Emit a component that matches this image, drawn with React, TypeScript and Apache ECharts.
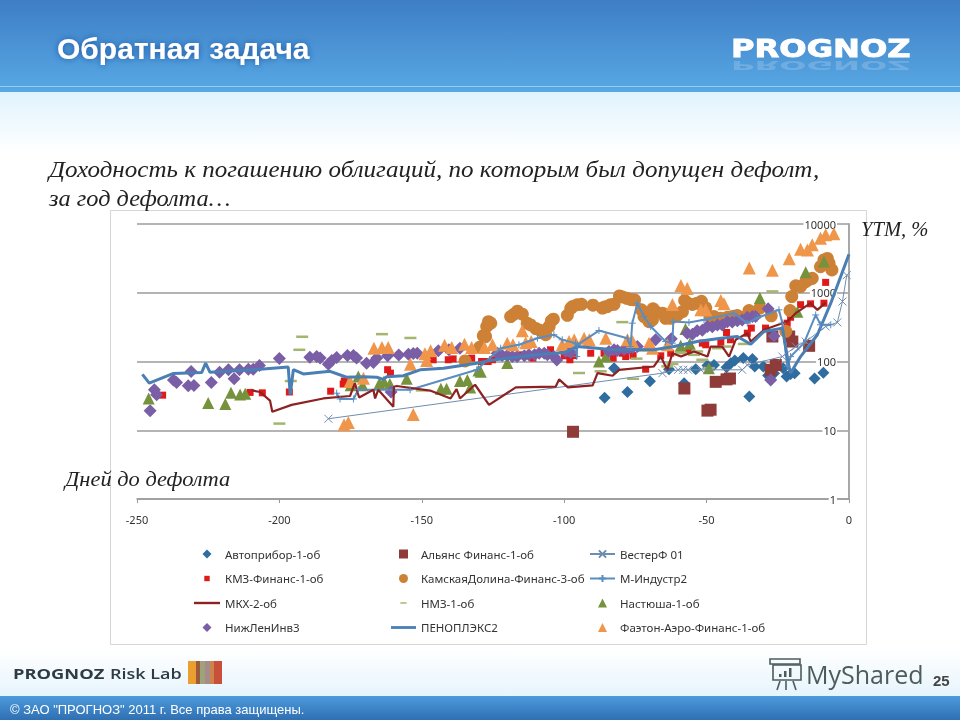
import React, { useEffect, useRef } from "react";
import * as echarts from "echarts";

const xTicks = { min: -250, max: 0, step: 50 };

const avtopribor = [[-85.8,29.6],[-82.5,80],[-77.8,36],[-69.9,51.8],[-63.2,77.3],[-57.9,48.4],[-53.8,77],[-49.7,87.5],[-47.4,89],[-43,82.7],[-41.5,94.6],[-40.1,103],[-37.1,112],[-33.9,109],[-35,31],[-33.1,84.6],[-30.1,84.6],[-28.4,62.6],[-26.3,67.7],[-23.1,80],[-21.9,60.5],[-20.5,66],[-19.1,67.7],[-12.1,56.6],[-9,68.5]];
const alyans = [[-96.9,9.5],[-57.8,40.5],[-49.7,19.3],[-48.6,19.9],[-46.8,50.6],[-43,55],[-41.8,56.6],[-26.9,231],[-27.5,75.7],[-25.7,89],[-21,231],[-19.9,195],[-14,169]];
const vester = [[-182.8,14.7],[-65.5,67.7],[-60,75.7],[-58.2,75.7],[-56.5,75.7],[-52,75.7],[-37.5,75.7],[-35.7,89],[-23.4,118],[-18.7,165],[-15.2,195],[-8.2,323],[-4.1,370],[-2.3,745],[-0.8,1800]];
const kmz = [[-241,32.4],[-210.3,35.5],[-206,35],[-196.5,36],[-182,37],[-177.6,47],[-177.2,52],[-162,76],[-161,67.7],[-146,106],[-140.7,106],[-139,109],[-132.5,112],[-129,100],[-126.7,100],[-128,100],[-125.2,106],[-114.7,125],[-111,112],[-104.8,148],[-100,121],[-98,106],[-96.6,122],[-90.7,132],[-86,132],[-82.8,112],[-79.6,132],[-78.4,118],[-75.8,122],[-71.4,77.3],[-66.1,121],[-62.6,132],[-56.2,148],[-51.5,185],[-50.3,175],[-45,190],[-43,264],[-41.6,207],[-35.7,258],[-34.3,306],[-29.3,306],[-21.7,361],[-20.5,440],[-17,670],[-13.5,690],[-8.2,1415],[-8.8,705]];
const kamskaya = [[-134.8,102],[-129.6,162],[-128.4,237],[-127.2,323],[-126.6,379],[-127.6,231],[-125.8,361],[-118.8,451],[-117.6,488],[-116.4,540],[-114.7,488],[-113,361],[-111.8,340],[-110,302],[-108.5,285],[-107,258],[-106.5,245],[-105.3,323],[-104.5,390],[-103.8,412],[-98.9,470],[-97.7,592],[-97.1,630],[-95.4,670],[-93.9,680],[-89.9,660],[-86.6,600],[-85.8,620],[-84.9,630],[-83.7,670],[-82.5,680],[-80.6,900],[-79.6,870],[-78,830],[-76.7,800],[-75.3,790],[-72.9,564],[-72,451],[-71,425],[-70.2,380],[-69,404],[-68.8,583],[-67.9,530],[-65.5,504],[-64.4,425],[-63.8,450],[-62.6,425],[-61.7,451],[-60.3,470],[-58.5,530],[-57.7,770],[-56.7,705],[-55,675],[-53.3,705],[-51.8,750],[-50.3,600],[-48.6,440],[-47.4,450],[-45,425],[-42.7,440],[-41,450],[-39.2,465],[-36.9,440],[-35.1,550],[-31.3,600],[-27.3,462],[-22.2,275],[-20.7,550],[-20.1,880],[-18.7,1260],[-17,1230],[-15.2,1450],[-14,1570],[-12.9,1620],[-10,2390],[-8.8,3000],[-7.6,3150],[-7,2690],[-6,2150]];
const mIndustr = [[-179.9,34.6],[-178.7,28.5],[-174,28.5],[-172.3,38.8],[-154.1,38.8],[-130.7,75.7],[-122.3,156],[-115.9,175],[-109.4,218],[-103.6,245],[-100.7,207],[-96,185],[-95.6,118],[-95.4,175],[-87.8,282],[-77.8,218],[-76.7,165],[-76.1,361],[-74.3,705],[-72,451],[-69.6,323],[-64.4,195],[-62,185],[-61.7,381],[-56.2,370],[-50.9,404],[-40.4,504],[-35.7,361],[-32.2,430],[-24.6,564],[-23.4,361],[-21.7,85],[-20.5,118],[-15.8,185],[-11.7,476],[-10,342],[-6.4,342]];
const mkx = [[-209.7,38],[-206.8,36],[-203.3,27],[-202.5,18.6],[-195.7,23.4],[-184.6,29],[-175.2,31.5],[-173.5,48.4],[-172,30],[-167,38.8],[-166.4,29],[-165.3,38.8],[-160,22],[-159.8,43],[-158.8,44],[-147.1,37.8],[-139.9,29],[-137.8,39.6],[-136.6,29],[-131.3,45.9],[-126.4,23.4],[-117,42],[-103,43],[-101.8,55],[-98.7,42],[-90,45],[-88.3,67.7],[-83,62],[-80.7,75.7],[-68.5,84.6],[-66.1,118],[-63.8,75.7],[-62,132],[-59,118],[-54.4,140],[-49.7,118],[-48.6,165],[-44.5,165],[-42.1,118],[-39.8,207],[-35.7,258],[-34.5,195],[-29.8,289],[-21.7,381],[-18.7,504],[-13.5,705],[-11.1,564],[-8.2,720]];
const nmz = [[-192,229],[-193,148],[-200,12.5],[-196,52],[-164,250],[-154,220],[-150,38],[-79.6,374],[-94.8,68],[-87.2,72],[-75.8,56],[-74.6,110],[-72,145],[-62,92],[-63.8,85],[-53.3,140],[-51.5,106],[-46,156],[-43.3,165],[-36.9,180],[-26.9,1045],[-59,132],[-54.4,125],[-49.2,80]];
const nastyusha = [[-245.9,29],[-225,25],[-219,24],[-217,35],[-213.8,33],[-212,34],[-175,45],[-172.3,60.5],[-170.8,45],[-164.9,48],[-163.3,51],[-161.2,47],[-155.3,56],[-143.3,40],[-141.3,40],[-136.6,52],[-134,54],[-133,42],[-130.1,74],[-120,95],[-129.3,71],[-87.8,100],[-85.4,118],[-59.1,169],[-55.9,181],[-57.4,296],[-49.2,80],[-31.3,840],[-18.1,530],[-15.2,1990],[-8.8,2850]];
const nizhLen = [[-245.4,19.2],[-243.9,38.8],[-243.1,32.7],[-237.2,54],[-236.1,49.5],[-232,44.3],[-230,44.8],[-231,71.6],[-223.9,49.5],[-221,70],[-217.9,75.7],[-215.9,56],[-214,75.7],[-210.9,77.3],[-209.2,77.3],[-207,87.5],[-200,110.6],[-189.3,115.6],[-186.9,118],[-185.7,112],[-182.8,91.5],[-181.6,103],[-179.9,114],[-176.1,122],[-174,122],[-172.9,112],[-169.4,94.6],[-167,96.7],[-165.8,112],[-162,121],[-158.1,124],[-154.7,128],[-153,131],[-151.6,132],[-144.2,143],[-140.5,148],[-136.6,156],[-160.8,36],[-123.5,132],[-121.8,122],[-120,122],[-118.2,118],[-116.5,118],[-114,121],[-112.4,125],[-110.4,125],[-108.8,132],[-107,132],[-105.9,125],[-103.6,118],[-102.6,105],[-99.5,140],[-97.7,135],[-84.3,140],[-82.5,148],[-81.3,145],[-79,150],[-77.2,156],[-76,160],[-74.3,165],[-67.9,207],[-62.4,215],[-56.8,258],[-55,250],[-53.3,280],[-51.5,285],[-49.7,323],[-48,320],[-46.2,340],[-44.5,340],[-42.7,380],[-41,375],[-39.2,390],[-37.5,400],[-35.7,440],[-33.9,450],[-32.8,451],[-28.4,585],[-26.3,235],[-27.5,54]];
const penoplex = [[-248.1,65],[-245.7,48.4],[-237.2,67],[-227.3,69],[-225.9,94.6],[-224.4,70],[-206.8,77],[-196.9,83],[-196.2,33],[-195.1,76],[-191.6,66],[-182.2,72],[-176.4,59],[-170.5,60],[-165.8,59],[-163.5,55],[-162.3,60],[-156.5,62],[-150.6,75.7],[-142.4,80],[-130.7,94.6],[-125,105],[-110,125],[-100,135],[-95.4,165],[-82.5,148],[-77.2,148],[-68.5,148],[-61.5,165],[-53.3,195],[-45,218],[-39.2,231],[-34.5,178],[-29.8,274],[-23.4,306],[-21.1,85],[-20.5,68],[-17,118],[-11.1,245],[-6.4,705],[0,3640]];
const faeton = [[-177.3,12],[-175.8,13],[-175.2,51],[-170.5,57],[-166.8,156],[-164,160],[-161.8,160],[-154,91.5],[-153,17],[-148.9,130],[-146.9,143],[-148.3,103],[-142,172],[-139.5,160],[-135,178],[-132.5,160],[-128,160],[-125.2,175],[-120,185],[-118,175],[-114.7,279],[-113.5,188],[-111.6,195],[-100.7,175],[-98.3,195],[-96.5,207],[-93,218],[-91.2,207],[-85.4,218],[-77.8,207],[-76,195],[-70.2,185],[-69,156],[-63.8,175],[-62,675],[-59,1280],[-56.8,1150],[-52,564],[-50.3,564],[-45,770],[-43.9,690],[-35,2300],[-26.9,2120],[-21,3120],[-17,4300],[-14.6,4200],[-12.9,5000],[-10,6200],[-8.2,7000],[-5.3,7200]];

const FONT = "'Noto Sans', sans-serif";
const CROSS = "path://M0 0L10 10M10 0L0 10";
const PLUS = "path://M5 0L5 10M0 5L10 5";
const ICON_DIAMOND = "path://M5 0L10 5L5 10L0 5Z";
const ICON_SQUARE = "path://M0 0L10 0L10 10L0 10Z";
const ICON_SMALL_SQUARE = "path://M0 0L0 0M10 10L10 10M2 2L8 2L8 8L2 8Z";
const ICON_CIRCLE = "path://M5 0A5 5 0 1 1 5 10A5 5 0 1 1 5 0Z";
const ICON_DASH = "path://M0 0L0 0M10 10L10 10M1.5 4.2L8.5 4.2L8.5 5.8L1.5 5.8Z";
const ICON_TRIANGLE = "path://M5 0L10 10L0 10Z";

function scatter(name: string, data: number[][], symbol: string, size: number | number[], color: string) {
  return { name, type: "scatter", data, symbol, symbolSize: size, itemStyle: { color, opacity: 1 } };
}
function line(name: string, data: number[][], color: string, width: number, symbol?: string, size?: number) {
  return {
    name, type: "line", data, smooth: false, showSymbol: !!symbol, symbol: symbol || "none", symbolSize: size || 0,
    lineStyle: { color, width },
    itemStyle: { color: symbol ? "transparent" : color, borderColor: color, borderWidth: symbol ? 1 : 0 },
  };
}

const txt = (text: string, x: number, y: number, font: string, fill: string, extra: any = {}, scaleX = 1, scaleY = 1) => ({
  type: "text", x, y, scaleX, scaleY, z: 20, silent: true,
  style: { text, font, fill, textVerticalAlign: "middle", ...extra },
});

const rect = (x: number, y: number, width: number, height: number, fill: any, z = -5) => ({
  type: "rect", z, silent: true, shape: { x, y, width, height }, style: { fill },
});
const vGrad = (stops: [number, string][]) => ({
  type: "linear", x: 0, y: 0, x2: 0, y2: 1, colorStops: stops.map(([offset, color]) => ({ offset, color })),
});
const stroke = (x1: number, y1: number, x2: number, y2: number, w = 1.6, color = "#4c5c5c") => ({
  type: "line", z: 20, silent: true, shape: { x1, y1, x2, y2 }, style: { stroke: color, lineWidth: w },
});

const legendCommon = {
  orient: "vertical", itemGap: 12.5, itemHeight: 9, top: 543,
  textStyle: { fontFamily: FONT, fontSize: 11.5, color: "#333" },
};

export default function App() {
  const ref = useRef<HTMLDivElement>(null);
  useEffect(() => {
    const chart = echarts.init(ref.current!, undefined, { renderer: "svg" });
    chart.setOption({
      animation: false,
      grid: { left: 137, right: 111, top: 224, bottom: 221 },
      xAxis: {
        type: "value", min: xTicks.min, max: xTicks.max, interval: xTicks.step, position: "bottom",
        axisLine: { onZero: false, lineStyle: { color: "#9a9a9a", width: 1.5 } },
        axisTick: { show: true, length: 4, lineStyle: { color: "#9a9a9a" } },
        axisLabel: { margin: 15, fontFamily: FONT, fontSize: 11, color: "#333", showMinLabel: true, showMaxLabel: true },
        splitLine: { show: false },
      },
      yAxis: {
        type: "log", logBase: 10, min: 1, max: 10000, position: "right",
        axisLine: { show: true, onZero: false, lineStyle: { color: "#a8a8a8", width: 2 } },
        axisTick: { show: false },
        minorTick: { show: false },
        axisLabel: { inside: true, margin: 12, fontFamily: FONT, fontSize: 11, color: "#333", backgroundColor: "#fff", padding: [0, 1, 0, 1], formatter: (v: number) => String(Math.round(v)) },
        splitLine: { show: true, lineStyle: { color: "#b4b4b4", width: 2 } },
      },
      legend: [
        { ...legendCommon, left: 189, itemWidth: 26, data: [
          { name: "Автоприбор-1-об", icon: ICON_DIAMOND },
          { name: "КМЗ-Финанс-1-об", icon: ICON_SMALL_SQUARE },
          { name: "МКХ-2-об", icon: "path://M0 0L26 0L26 2.4L0 2.4Z" },
          { name: "НижЛенИнв3", icon: ICON_DIAMOND },
        ] },
        { ...legendCommon, left: 386, itemWidth: 25, data: [
          { name: "Альянс Финанс-1-об", icon: ICON_SQUARE },
          { name: "КамскаяДолина-Финанс-3-об", icon: ICON_CIRCLE },
          { name: "НМЗ-1-об", icon: ICON_DASH },
          { name: "ПЕНОПЛЭКС2", icon: "path://M0 0L27 0L27 3L0 3Z" },
        ] },
        { ...legendCommon, left: 584, itemWidth: 25, data: [
          "ВестерФ 01",
          "М-Индустр2",
          { name: "Настюша-1-об", icon: ICON_TRIANGLE },
          { name: "Фаэтон-Аэро-Финанс-1-об", icon: ICON_TRIANGLE },
        ] },
      ],
      series: [
        scatter("Автоприбор-1-об", avtopribor, "diamond", 12, "#2f6c9f"),
        scatter("Альянс Финанс-1-об", alyans, "rect", 12, "#8e3b3a"),
        line("ВестерФ 01", vester, "#6f8db0", 1, CROSS, 8),
        scatter("КМЗ-Финанс-1-об", kmz, "rect", 7, "#e01a1a"),
        scatter("КамскаяДолина-Финанс-3-об", kamskaya, "circle", 13, "#cc8136"),
        line("М-Индустр2", mIndustr, "#5b8dc0", 2, PLUS, 7),
        line("МКХ-2-об", mkx, "#8e2222", 2.2),
        scatter("НМЗ-1-об", nmz, "rect", [12, 2.5], "#a3b56e"),
        scatter("Настюша-1-об", nastyusha, "triangle", 12, "#76923c"),
        scatter("НижЛенИнв3", nizhLen, "diamond", 13, "#7a5ea6"),
        line("ПЕНОПЛЭКС2", penoplex, "#4a7fb5", 3),
        scatter("Фаэтон-Аэро-Финанс-1-об", faeton, "triangle", 13, "#f0964a"),
      ],
      graphic: {
        elements: [
          rect(0, 0, 960, 720, "#ffffff", -10),
          rect(0, 0, 960, 92, vGrad([[0, "#3e7ec5"], [1, "#58a8e4"]]), -9),
          rect(0, 86, 960, 1, "#93cdf2", -8),
          rect(0, 92, 960, 60, vGrad([[0, "#e0f3fd"], [1, "#ffffff"]]), -9),
          rect(0, 650, 960, 46, vGrad([[0, "#ffffff"], [1, "#e6f4fc"]]), -9),
          rect(0, 696, 960, 24, vGrad([[0, "#4c9bdd"], [1, "#2f6fb2"]]), -9),
          { type: "rect", z: -7, silent: true, shape: { x: 110.5, y: 210.5, width: 756, height: 434 }, style: { fill: "#ffffff", stroke: "#d6d6d6", lineWidth: 1 } },
          txt("Обратная задача", 57, 48, "bold 30px 'Liberation Sans'", "#ffffff", { textShadowColor: "#1a5aa5", textShadowBlur: 6 }),
          txt("PROGNOZ", 731, 49, "bold 24px 'DejaVu Sans'", "#ffffff", { stroke: "#ffffff", lineWidth: 0.8 }, 1.34),
          txt("PROGNOZ", 731, 65, "bold 24px 'DejaVu Sans'", "#ffffff", { opacity: 0.18 }, 1.34, -0.5),
          txt("Доходность к погашению облигаций, по которым был допущен дефолт,", 49, 169, "italic 23px 'Liberation Serif'", "#222222", {}, 1.09),
          txt("за год дефолта…", 49, 198, "italic 23px 'Liberation Serif'", "#222222", {}, 1.06),
          txt("YTM, %", 861, 229, "italic 20px 'Liberation Serif'", "#222222", {}, 1.03),
          txt("Дней до дефолта", 65, 479, "italic 21px 'Liberation Serif'", "#222222", {}, 1.07),
          txt("PROGNOZ", 13, 673, "bold 15px 'Open Sans'", "#2f3b44", {}, 1.22),
          txt("Risk Lab", 110, 673, "600 15px 'Open Sans'", "#2f3b44", {}, 1.2),
          rect(188, 661, 8, 23, "#e9a02e", 10),
          rect(196, 661, 4, 23, "#9c5a3c", 10),
          rect(200, 661, 5, 23, "#9fa37a", 10),
          rect(205, 661, 5, 23, "#a88a8a", 10),
          rect(210, 661, 4, 23, "#c9854a", 10),
          rect(214, 661, 8, 23, "#c8503a", 10),
          txt("© ЗАО \"ПРОГНОЗ\" 2011 г. Все права защищены.", 10, 709, "13px 'Liberation Sans'", "#ffffff", {}, 1.0),
          txt("MyShared", 806, 674, "25px 'Open Sans'", "#4c5c5c"),
          txt("25", 933, 680, "bold 15px 'Liberation Sans'", "#444444"),
          { type: "rect", z: 20, silent: true, shape: { x: 773, y: 665, width: 28, height: 15 }, style: { fill: "none", stroke: "#4c5c5c", lineWidth: 1.6 } },
          { type: "rect", z: 20, silent: true, shape: { x: 770, y: 659, width: 30, height: 5 }, style: { fill: "none", stroke: "#4c5c5c", lineWidth: 1.6 } },
          rect(779, 674, 2.5, 3, "#4c5c5c", 20),
          rect(784, 671, 2.5, 6, "#4c5c5c", 20),
          rect(789, 668, 2.5, 9, "#4c5c5c", 20),
          stroke(780, 681, 777, 690),
          stroke(786, 681, 786, 690),
          stroke(793, 681, 796, 690),
        ],
      },
    });
    return () => chart.dispose();
  }, []);
  return <div ref={ref} style={{ position: "fixed", left: 0, top: 0, width: 960, height: 720 }} />;
}
